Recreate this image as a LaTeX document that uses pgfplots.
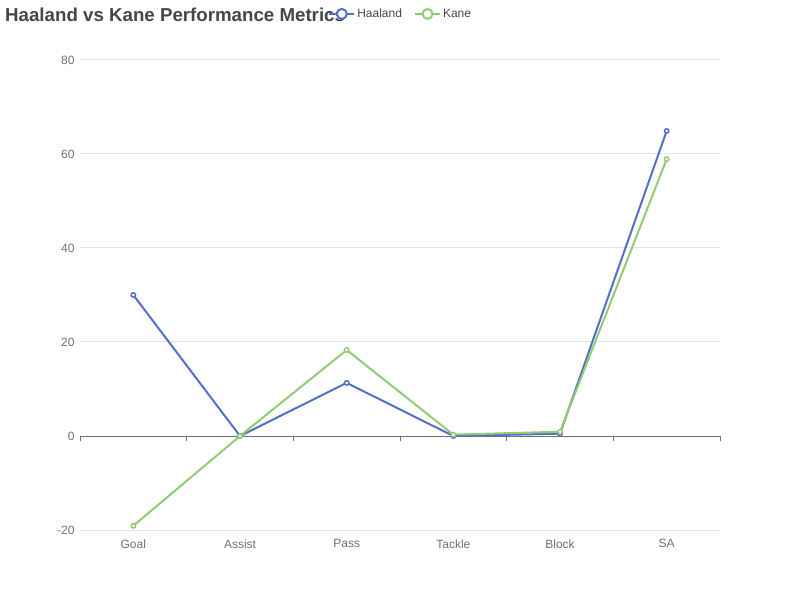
\documentclass[border=0pt]{standalone}
\usepackage{pgfplots}
\pgfplotsset{compat=1.18}
\usepackage{fontspec}
\setmainfont{Liberation Sans}
\definecolor{hcol}{HTML}{5470C6}
\definecolor{kcol}{HTML}{91CC75}
\definecolor{axcol}{HTML}{6E7079}
\definecolor{gridcol}{HTML}{E0E6F1}
\definecolor{titlecol}{HTML}{464646}
\begin{document}
\begin{tikzpicture}
\useasboundingbox (0pt,0pt) rectangle (800pt,600pt);
\node[anchor=west,font=\fontsize{18.7}{20}\selectfont\bfseries,text=titlecol,inner sep=0] at (5pt,585pt) {Haaland vs Kane Performance Metrics};
\begin{axis}[
  at={(80pt,70pt)}, anchor=south west,
  scale only axis, width=640pt, height=470pt,
  xmin=-0.5, xmax=5.5, ymin=-20, ymax=80,
  ytick={-20,0,20,40,60,80},
  xtick={0,1,2,3,4,5},
  xticklabels={Goal,Assist,Pass,Tackle,Block,SA},
  axis line style={draw=none},
  major tick length=0,
  ymajorgrids, grid style={gridcol, line width=1pt},
  tick label style={text=axcol, font=\fontsize{12}{14}\selectfont},
  /pgf/number format/assume math mode=true,
  yticklabel style={xshift=-2pt},
  xticklabel style={yshift=-6pt},
  clip=false,
  legend style={at={(0.383,1.098)}, anchor=west, draw=none, fill=none,
    font=\fontsize{12}{14}\selectfont, text=titlecol, legend columns=2,
    /tikz/every even column/.append style={column sep=10pt}},
  legend image code/.code={
    \draw[line width=2pt] (0pt,0pt) -- (25pt,0pt);
    \draw[line width=2pt, fill=white] (12.5pt,0pt) circle (5pt);
  },
]
\draw[axcol, line width=1pt] (axis cs:-0.5,0) -- (axis cs:5.5,0);
\pgfplotsinvokeforeach{-0.5,0.5,1.5,2.5,3.5,4.5,5.5}{
  \draw[axcol, line width=1pt] (axis cs:#1,0) -- ++(0pt,-5pt);
}
\addplot[hcol, line width=2pt, mark=*, mark size=2.2pt, mark options={fill=white, line width=1.5pt}]
  coordinates {(0,30) (1,0) (2,11.3) (3,0) (4,0.5) (5,64.9)};
\addlegendentry{Haaland}
\addplot[kcol, line width=2pt, mark=*, mark size=2.2pt, mark options={fill=white, line width=1.5pt}]
  coordinates {(0,-19.1) (1,0) (2,18.3) (3,0.3) (4,0.9) (5,58.9)};
\addlegendentry{Kane}
\end{axis}
\end{tikzpicture}
\end{document}
